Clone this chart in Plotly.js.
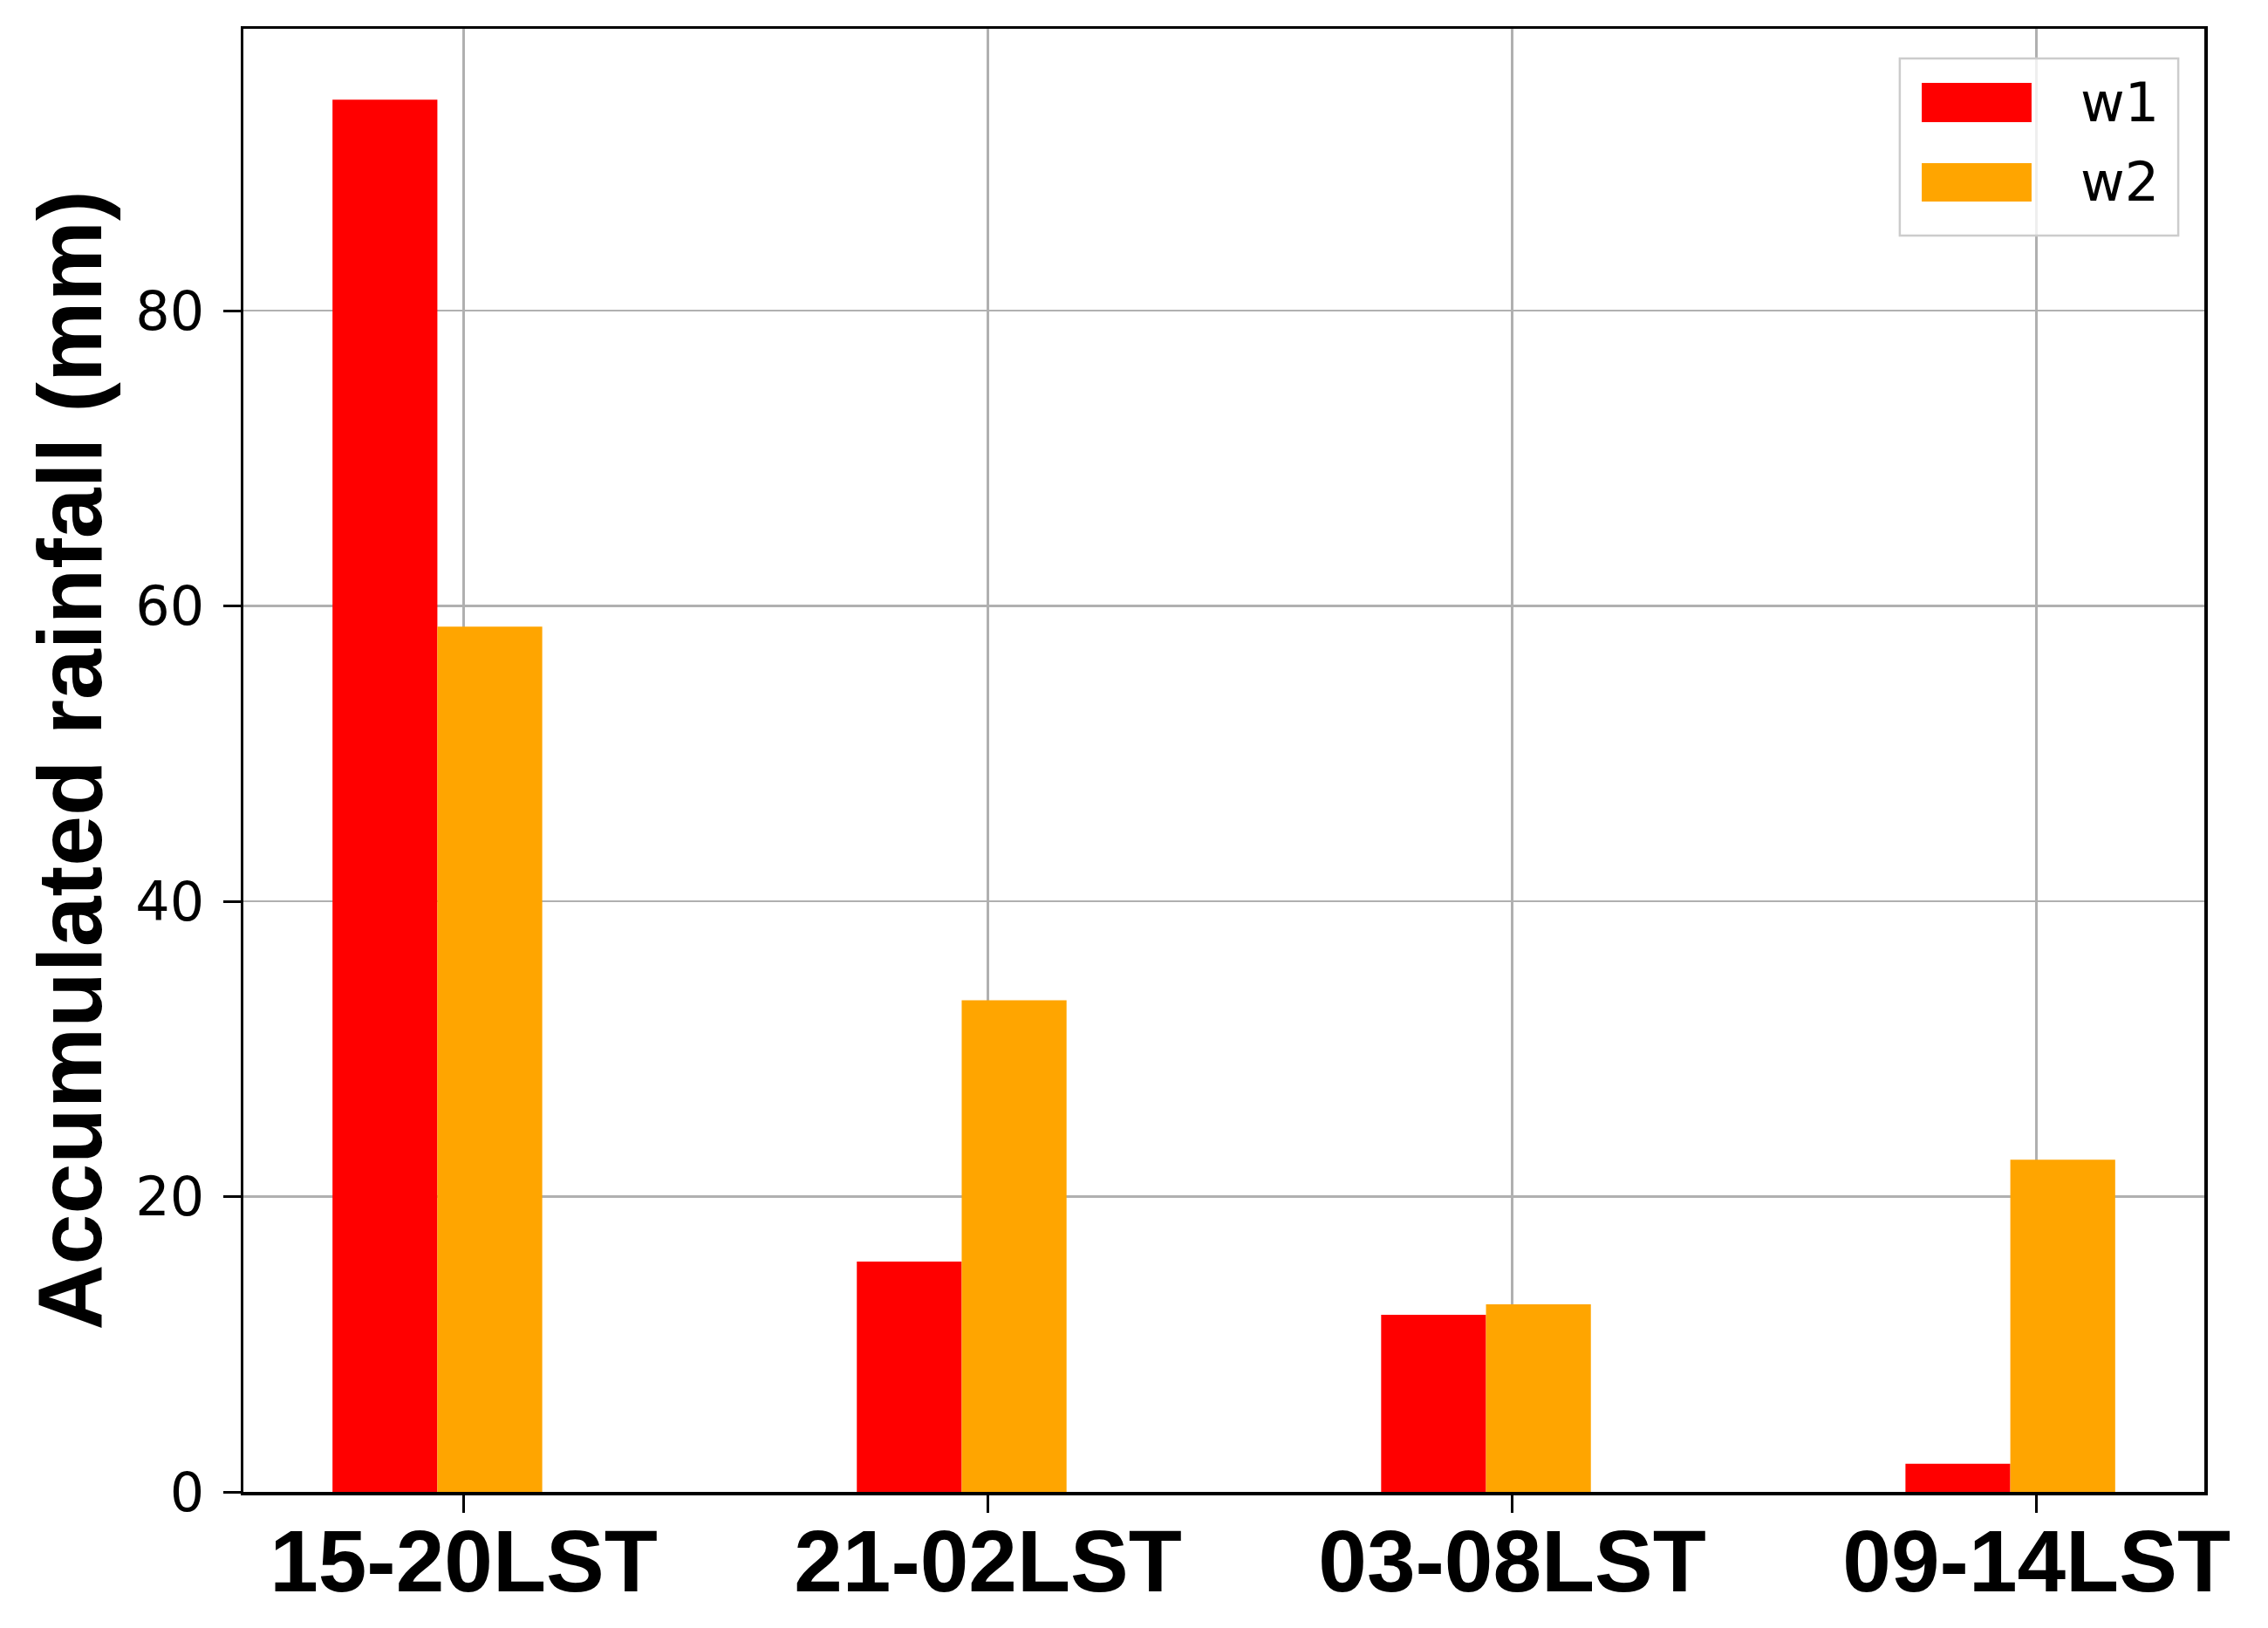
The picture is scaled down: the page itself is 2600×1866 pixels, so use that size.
<!DOCTYPE html>
<html>
<head>
<meta charset="utf-8">
<script src="https://cdn.plot.ly/plotly-3.0.1.min.js"></script>
<style>
  html, body { margin: 0; padding: 0; background: #fff; }
  #chart { width: 2600px; height: 1866px; }
</style>
</head>
<body>
<div id="chart"></div>
<script>
// accumulated rainfall per period
const periods = ['15-20LST', '21-02LST', '03-08LST', '09-14LST'];
const w1 = [94.3, 15.6, 12.0, 1.9];
const w2 = [58.6, 33.3, 12.7, 22.5];
const seriesNames = ['w1', 'w2'];
const seriesColors = ['#ff0000', '#ffa500'];
const yTicks = [0, 20, 40, 60, 80];

const boldFont = 'Liberation Sans, Arial, sans-serif';
const plainFont = 'DejaVu Sans, sans-serif';

const traces = [w1, w2].map((vals, i) => ({
    type: 'bar',
    name: seriesNames[i],
    x: periods,
    y: vals,
    width: 0.2,
    offset: i === 0 ? -0.25 : -0.05,
    marker: { color: seriesColors[i], line: { width: 0 } },
    hoverinfo: 'x+y+name'
}));

// legend drawn by hand so the swatches keep the matplotlib proportions
const legendShapes = [
    {
        type: 'rect', xref: 'paper', yref: 'paper',
        x0: 0.8447, x1: 0.9867, y0: 0.8587, y1: 0.9797,
        line: { color: '#cccccc', width: 2.5 },
        fillcolor: 'rgba(255,255,255,0.8)'
    },
    {
        type: 'rect', xref: 'paper', yref: 'paper',
        x0: 0.8559, x1: 0.9119, y0: 0.9362, y1: 0.9630,
        line: { width: 0 }, fillcolor: seriesColors[0]
    },
    {
        type: 'rect', xref: 'paper', yref: 'paper',
        x0: 0.8559, x1: 0.9119, y0: 0.8819, y1: 0.9082,
        line: { width: 0 }, fillcolor: seriesColors[1]
    }
];

const legendLabels = seriesNames.map((name, i) => ({
    xref: 'paper', yref: 'paper',
    x: 0.9359, y: i === 0 ? 0.9496 : 0.8951,
    xanchor: 'left', yanchor: 'middle',
    text: name, showarrow: false,
    font: { family: plainFont, size: 62, color: '#000' }
}));

const layout = {
    width: 2600,
    height: 1866,
    margin: { l: 279, r: 73, t: 33, b: 156 },
    paper_bgcolor: '#fff',
    plot_bgcolor: '#fff',
    barmode: 'overlay',
    showlegend: false,
    xaxis: {
        type: 'category',
        range: [-0.42, 3.32],
        showline: true, mirror: true, linecolor: '#000', linewidth: 3.5,
        showgrid: true, gridcolor: '#b0b0b0', gridwidth: 2.5,
        ticks: 'outside', ticklen: 20, tickwidth: 3, tickcolor: '#000',
        ticklabelstandoff: -30,
        tickfont: { family: boldFont, size: 100, weight: 'bold', color: '#000' },
        zeroline: false
    },
    yaxis: {
        range: [0, 99.1],
        tickvals: yTicks,
        showline: true, mirror: true, linecolor: '#000', linewidth: 3.5,
        showgrid: true, gridcolor: '#b0b0b0', gridwidth: 2.5,
        ticks: 'outside', ticklen: 20, tickwidth: 3, tickcolor: '#000',
        ticklabelstandoff: 9,
        tickfont: { family: plainFont, size: 62, color: '#000' },
        zeroline: false,
        title: {
            text: 'Accumulated rainfall (mm)',
            standoff: 5,
            font: { family: boldFont, size: 104, weight: 'bold', color: '#000' }
        }
    },
    shapes: legendShapes,
    annotations: legendLabels
};

Plotly.newPlot('chart', traces, layout, { displayModeBar: false, staticPlot: true });
</script>
</body>
</html>
